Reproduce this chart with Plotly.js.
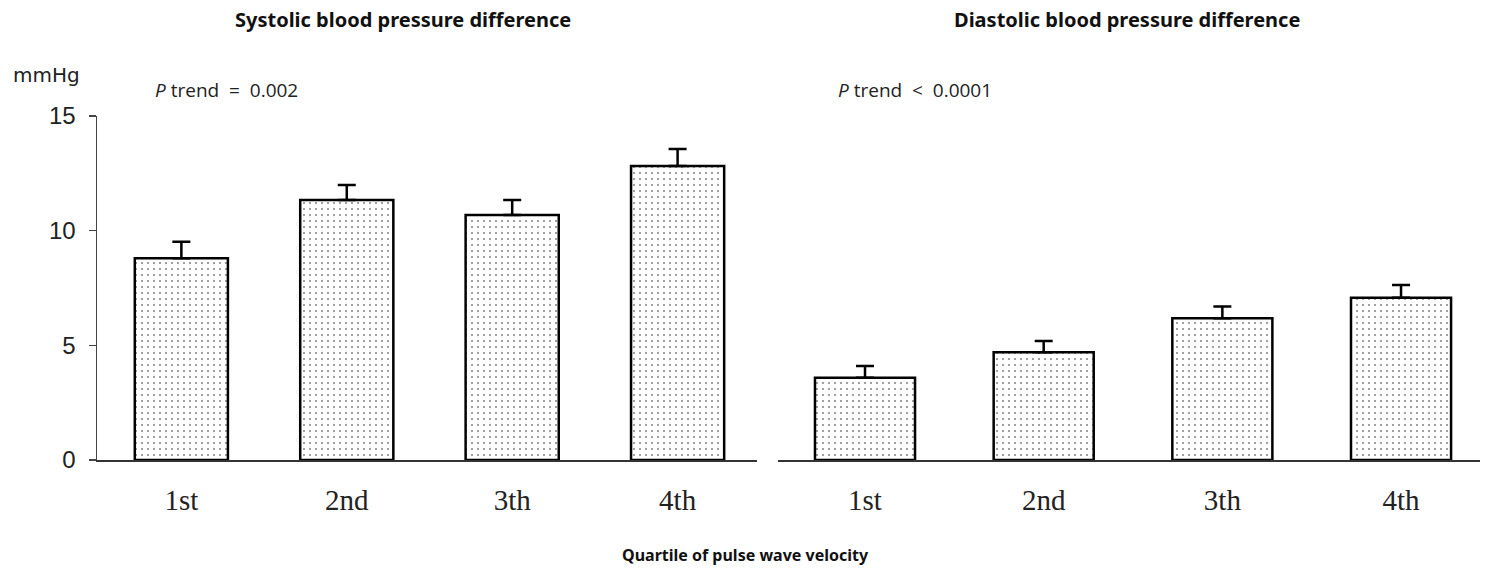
<!DOCTYPE html>
<html>
<head>
<meta charset="utf-8">
<script src="https://cdn.plot.ly/plotly-3.0.1.min.js"></script>
<style>html,body{margin:0;padding:0;background:#fff}#chart{width:1490px;height:576px}</style>
</head>
<body>
<div id="chart"></div>
<script>
const quartiles = ["1st", "2nd", "3th", "4th"];
const systolicDiff = [8.8, 11.34, 10.68, 12.82];
const systolicErr = [0.72, 0.65, 0.66, 0.74];
const diastolicDiff = [3.59, 4.7, 6.18, 7.08];
const diastolicErr = [0.51, 0.49, 0.51, 0.55];
const yTicks = [0, 5, 10, 15];

const pat = {shape: '.', fgcolor: '#8a8a8a', bgcolor: '#ffffff', size: 6, solidity: 0.1};
function barTrace(vals, errs, xa, ya, w) {
  return {
    type: 'bar', x: quartiles, y: vals, xaxis: xa, yaxis: ya, width: w,
    marker: {color: '#ffffff', line: {color: '#000', width: 2.5}, pattern: pat},
    error_y: {type: 'data', array: errs, arrayminus: errs.map(() => 0), symmetric: false,
              color: '#000', thickness: 2.5, width: 9},
    hoverinfo: 'skip', showlegend: false
  };
}

const H = 576, W = 1490;
const yDom = [(H - 460) / H, (H - 116) / H];
const tickFontX = {family: 'Liberation Serif, serif', size: 29, color: '#222'};
const titleFont = {family: 'Noto Sans, Open Sans, sans-serif', size: 20, color: '#111'};
const layout = {
  width: W, height: H, margin: {l: 0, r: 0, t: 0, b: 0},
  paper_bgcolor: '#fff', plot_bgcolor: 'rgba(0,0,0,0)',
  xaxis: {domain: [97 / W, 757 / W], range: [-0.51, 3.48], anchor: 'y',
          showline: true, linecolor: '#333', linewidth: 1.5, ticks: '', showgrid: false,
          zeroline: false, tickfont: tickFontX, ticklabelstandoff: 14},
  yaxis: {domain: yDom, range: [0, 15], anchor: 'x', tickvals: yTicks, ticktext: yTicks.map(String),
          showline: true, linecolor: '#444', linewidth: 1.5, ticks: 'outside', ticklen: 7,
          tickwidth: 1.5, tickcolor: '#444', showgrid: false, zeroline: false,
          tickfont: {family: 'Liberation Sans, Arial, sans-serif', size: 24, color: '#222'},
          ticklabelstandoff: 8},
  xaxis2: {domain: [778 / W, 1480 / W], range: [-0.487, 3.442], anchor: 'y2',
           showline: true, linecolor: '#333', linewidth: 1.5, ticks: '', showgrid: false,
           zeroline: false, tickfont: tickFontX, ticklabelstandoff: 14},
  yaxis2: {domain: yDom, range: [0, 15], anchor: 'x2', visible: false},
  annotations: [
    {text: '<b>Systolic blood pressure difference</b>', xref: 'paper', yref: 'paper',
     x: 403 / W, y: 1 - 19 / H, showarrow: false, xanchor: 'center', yanchor: 'middle',
     font: titleFont},
    {text: '<b>Diastolic blood pressure difference</b>', xref: 'paper', yref: 'paper',
     x: 1127 / W, y: 1 - 19 / H, showarrow: false, xanchor: 'center', yanchor: 'middle',
     font: titleFont},
    {text: '<b>Quartile of pulse wave velocity</b>', xref: 'paper', yref: 'paper',
     x: 745 / W, y: 1 - 555 / H, showarrow: false, xanchor: 'center', yanchor: 'middle',
     font: {family: 'Noto Sans, Open Sans, sans-serif', size: 16, color: '#111'}},
    {text: 'mmHg', xref: 'paper', yref: 'paper', x: 11 / W, y: 1 - 75 / H,
     showarrow: false, xanchor: 'left', yanchor: 'middle',
     font: {family: 'DejaVu Sans, sans-serif', size: 20, color: '#222'}},
    {text: '<i>P</i> trend  =  0.002', xref: 'paper', yref: 'paper', x: 153 / W, y: 1 - 90 / H,
     showarrow: false, xanchor: 'left', yanchor: 'middle',
     font: {family: 'Open Sans, sans-serif', size: 19, color: '#222'}},
    {text: '<i>P</i> trend  <  0.0001', xref: 'paper', yref: 'paper', x: 836 / W, y: 1 - 90 / H,
     showarrow: false, xanchor: 'left', yanchor: 'middle',
     font: {family: 'Open Sans, sans-serif', size: 19, color: '#222'}}
  ]
};

Plotly.newPlot('chart', [
  barTrace(systolicDiff, systolicErr, 'x', 'y', 0.563),
  barTrace(diastolicDiff, diastolicErr, 'x2', 'y2', 0.56)
], layout, {staticPlot: true, displayModeBar: false});
</script>
</body>
</html>
